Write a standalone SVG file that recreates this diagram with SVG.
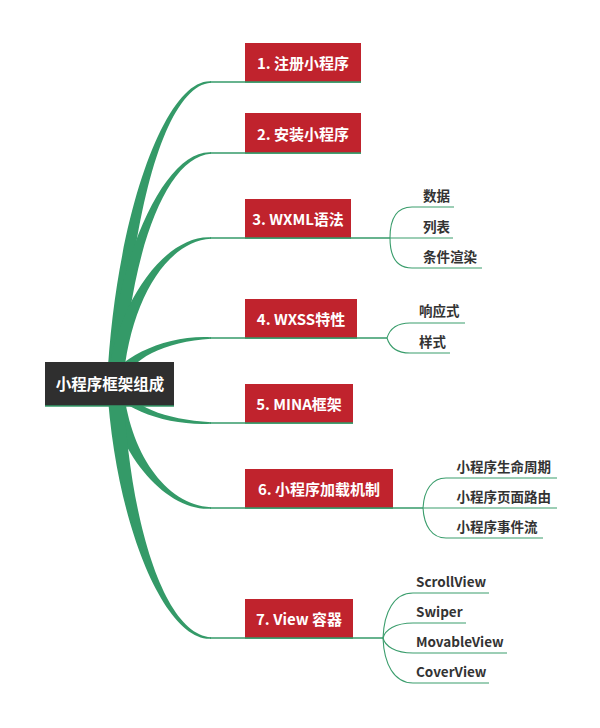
<svg xmlns="http://www.w3.org/2000/svg" width="600" height="728" viewBox="0 0 600 728">
<style>
.thick{fill:#349a68;stroke:none}
.ln{fill:none;stroke:#349a68;stroke-width:1.5}
.cl{fill:none;stroke:#3a9d6c;stroke-width:1.1}
.nb{fill:#c0232d}
.nt{font-family:"Noto Sans CJK SC","Noto Sans",sans-serif;font-weight:bold;font-size:15px;fill:#ffffff;text-anchor:middle}
.ct{font-family:"Noto Sans CJK SC","Noto Sans",sans-serif;font-weight:bold;font-size:13.5px;fill:#333333}
</style>
<rect width="600" height="728" fill="#ffffff"/>
<g id="connectors">
<path class="thick" d="M107,384 C115,218 165,78.5 211,81.25 L211,82.75 C165,85.5 129,218 123,384 Z"/>
<path class="thick" d="M107,384 C115,257 165,149.5 211,152.25 L211,153.75 C165,156.5 129,257 123,384 Z"/>
<path class="thick" d="M107,384 C115,304 165,234.5 211,237.25 L211,238.75 C165,241.5 129,304 123,384 Z"/>
<path class="thick" d="M107,384 C115,359 165,334.5 211,337.25 L211,338.75 C165,341.5 129,359 123,384 Z"/>
<path class="thick" d="M107,384 C115,406 165,426.5 211,423.75 L211,422.25 C165,419.5 129,406 123,384 Z"/>
<path class="thick" d="M107,384 C115,452 165,511.5 211,508.75 L211,507.25 C165,504.5 129,452 123,384 Z"/>
<path class="thick" d="M107,384 C115,524 165,641.5 211,638.75 L211,637.25 C165,634.5 129,524 123,384 Z"/>
<path class="ln" d="M210,82 H361"/>
<path class="ln" d="M210,153 H361"/>
<path class="ln" d="M210,238 H390"/>
<path class="ln" d="M210,338 H387"/>
<path class="ln" d="M210,423 H353"/>
<path class="ln" d="M210,508 H423"/>
<path class="ln" d="M210,638 H383"/>
<path class="cl" d="M390,238 C390,218 397,207 412,207 H454"/>
<path class="cl" d="M390,238 H453"/>
<path class="cl" d="M390,238 C390,258 397,268 412,268 H482"/>
<path class="cl" d="M387,338 C390,328 397,323 410,323 H465"/>
<path class="cl" d="M387,338 C390,348 397,353 410,353 H450"/>
<path class="cl" d="M423,508 C424,490 432,478 446,478 H557"/>
<path class="cl" d="M423,508 H557"/>
<path class="cl" d="M423,508 C424,526 432,538 446,538 H543"/>
<path class="cl" d="M383,638 C384,612 394,593 413,593 H489"/>
<path class="cl" d="M383,638 C385,630 395,623 413,623 H466"/>
<path class="cl" d="M383,638 C385,646 395,653 413,653 H507"/>
<path class="cl" d="M383,638 C384,664 394,683 413,683 H489"/>
</g>
<g id="root">
<rect x="45" y="362" width="129" height="44" fill="#2f2f2f"/>
<path class="ln" d="M45,406 H174"/>
<text class="nt" x="110" y="389.5" style="font-size:15.5px">小程序框架组成</text>
</g>
<g id="n1"><rect class="nb" x="245" y="43" width="116" height="39"/><path class="ln" d="M245,82 H361"/><text class="nt" x="303" y="68.5">1. 注册小程序</text></g>
<g id="n2"><rect class="nb" x="245" y="113" width="116" height="40"/><path class="ln" d="M245,153 H361"/><text class="nt" x="303" y="139.5">2. 安装小程序</text></g>
<g id="n3"><rect class="nb" x="245" y="199" width="106" height="39"/><path class="ln" d="M245,238 H351"/><text class="nt" x="298" y="224.5">3. WXML语法</text></g>
<g id="n4"><rect class="nb" x="245" y="299" width="112" height="39"/><path class="ln" d="M245,338 H357"/><text class="nt" x="301" y="324.5">4. WXSS特性</text></g>
<g id="n5"><rect class="nb" x="245" y="384" width="108" height="39"/><path class="ln" d="M245,423 H353"/><text class="nt" x="299" y="409.5">5. MINA框架</text></g>
<g id="n6"><rect class="nb" x="245" y="469" width="148" height="39"/><path class="ln" d="M245,508 H393"/><text class="nt" x="319" y="494.5">6. 小程序加载机制</text></g>
<g id="n7"><rect class="nb" x="245" y="599" width="108" height="39"/><path class="ln" d="M245,638 H353"/><text class="nt" x="299" y="624.5">7. View 容器</text></g>
<g id="c31"><text class="ct" x="423" y="200.5">数据</text></g>
<g id="c32"><text class="ct" x="423" y="231.5">列表</text></g>
<g id="c33"><text class="ct" x="423" y="261.5">条件渲染</text></g>
<g id="c41"><text class="ct" x="419" y="316">响应式</text></g>
<g id="c42"><text class="ct" x="419" y="346.5">样式</text></g>
<g id="c61"><text class="ct" x="456.5" y="471.5">小程序生命周期</text></g>
<g id="c62"><text class="ct" x="456.5" y="501.5">小程序页面路由</text></g>
<g id="c63"><text class="ct" x="456.5" y="531.5">小程序事件流</text></g>
<g id="c71"><text class="ct" x="416" y="586.5">ScrollView</text></g>
<g id="c72"><text class="ct" x="416" y="616.5">Swiper</text></g>
<g id="c73"><text class="ct" x="416" y="646.5">MovableView</text></g>
<g id="c74"><text class="ct" x="416" y="676.5">CoverView</text></g>
</svg>
